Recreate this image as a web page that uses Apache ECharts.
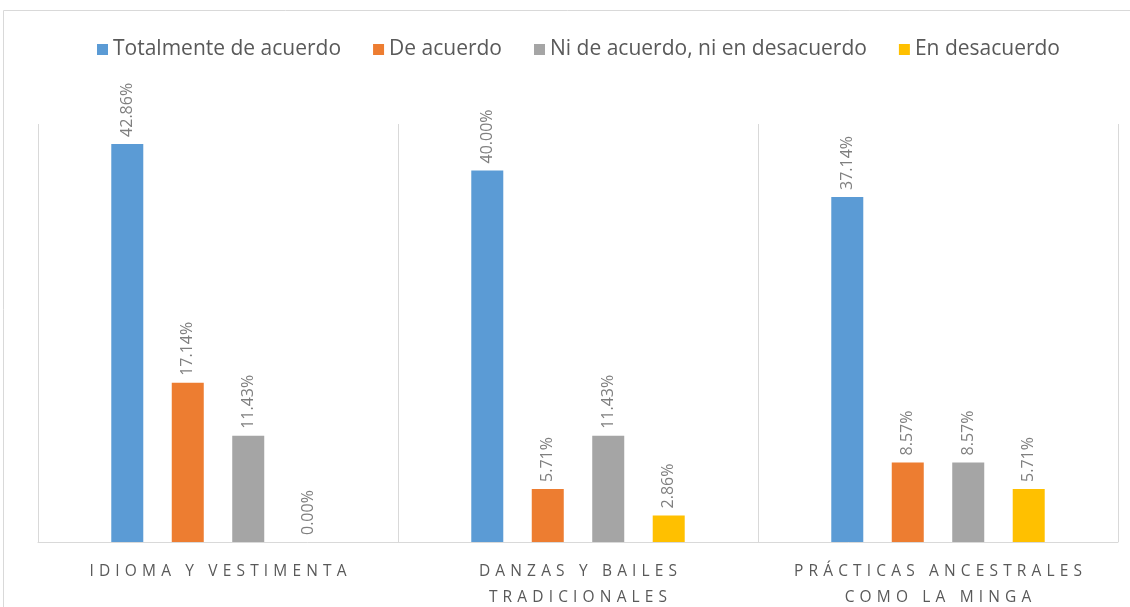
<!DOCTYPE html>
<html>
<head>
<meta charset="utf-8">
<script src="https://cdn.jsdelivr.net/npm/echarts@6/dist/echarts.min.js"></script>
<style>
  html, body { margin: 0; padding: 0; background: #fff; }
  #main { width: 1130px; height: 607px; }
</style>
</head>
<body>
<div id="main"></div>
<script>
const categories = ["IDIOMA Y VESTIMENTA", "DANZAS Y BAILES\nTRADICIONALES", "PRÁCTICAS ANCESTRALES\nCOMO LA MINGA"];
const seriesNames = ["Totalmente de acuerdo", "De acuerdo", "Ni de acuerdo, ni en desacuerdo", "En desacuerdo"];
const totalmente = [42.86, 40.00, 37.14];
const deAcuerdo = [17.14, 5.71, 8.57];
const niNi = [11.43, 11.43, 8.57];
const enDesacuerdo = [0.00, 2.86, 5.71];
const colors = ["#5b9bd5", "#ed7d31", "#a5a5a5", "#ffc000"];

const font = "'Open Sans', sans-serif";

// spread letters out like the original letter-spaced axis labels
const spaced = (s) => s.split("\n").map(line => line.split("").join("\u2004")).join("\n");

const myChart = echarts.init(document.getElementById("main"));

const makeSeries = (name, data, i) => ({
  name: name,
  type: "bar",
  data: data,
  barWidth: 32,
  barGap: "89%",
  itemStyle: { color: colors[i] },
  label: {
    show: true,
    position: "top",
    rotate: 90,
    align: "left",
    verticalAlign: "middle",
    distance: 7,
    color: "#7f7f7f",
    fontSize: 16,
    fontFamily: font,
    formatter: (p) => p.value.toFixed(2) + "%"
  }
});

myChart.setOption({
  animation: false,
  graphic: [{
    type: "rect",
    shape: { x: 3.5, y: 10.5, width: 1140, height: 610 },
    style: { fill: "none", stroke: "#d9d9d9", lineWidth: 1 },
    silent: true
  }],
  legend: {
    top: 34,
    left: 92,
    itemWidth: 11,
    itemHeight: 11,
    itemGap: 32,
    icon: "rect",
    textStyle: { color: "#595959", fontSize: 21, fontFamily: font, padding: [0, 0, 0, 0] },
    data: seriesNames
  },
  grid: { left: 38, right: 12, top: 124, bottom: 65, outerBoundsMode: "none" },
  xAxis: {
    type: "category",
    data: categories,
    axisTick: { show: false },
    axisLine: { lineStyle: { color: "#d9d9d9", width: 1 } },
    splitLine: { show: true, lineStyle: { color: "#d9d9d9", width: 1 } },
    axisLabel: {
      color: "#595959",
      fontSize: 15.5,
      fontFamily: font,
      margin: 17,
      lineHeight: 26,
      interval: 0,
      formatter: spaced
    }
  },
  yAxis: {
    type: "value",
    min: 0,
    max: 45,
    show: false,
    splitLine: { show: false }
  },
  series: [
    makeSeries(seriesNames[0], totalmente, 0),
    makeSeries(seriesNames[1], deAcuerdo, 1),
    makeSeries(seriesNames[2], niNi, 2),
    makeSeries(seriesNames[3], enDesacuerdo, 3)
  ]
});
</script>
</body>
</html>
